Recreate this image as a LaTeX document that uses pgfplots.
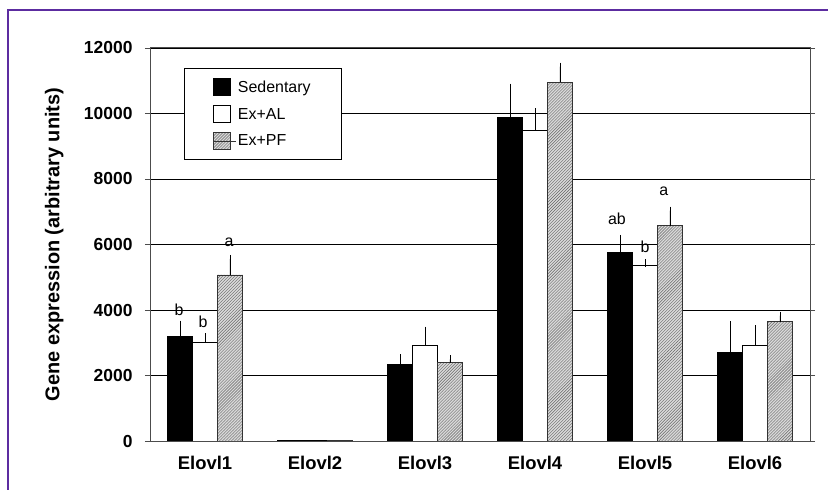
\documentclass[border=0pt]{standalone}
\usepackage{fontspec}
\setmainfont{Liberation Sans}
\usepackage{pgfplots}
\usepackage{pgfplotstable}
\pgfplotsset{compat=1.18}
\usetikzlibrary{patterns}

\definecolor{framepurple}{RGB}{92,44,160}

% x = gene index, value and upper error for each group
\pgfplotstableread{
x sed  sedE al   alE pf    pfE
0 3200 350  3000 170 5070  490
1 20   nan  20   nan 20    nan
2 2350 175  2930 440 2390  105
3 9880 910  9480 560 10960 470
4 5770 400  5350 70  6575  460
5 2710 830  2910 500 3645  180
}\expr

\pgfplotsset{
  sq legend/.style={legend image code/.code={
    \draw[##1] (0bp,-8bp) rectangle (17bp,9bp);
    \path[draw=none, fill=none] (0bp,0bp) -- (22bp,0bp);}},
}

\begin{document}
\begin{tikzpicture}
\path[use as bounding box] (0,0) rectangle (828bp,490bp);
\draw[framepurple, line width=1.5bp] (8bp,0) -- (8bp,480bp) -- (828bp,480bp);
\begin{axis}[
    at={(150bp,49bp)}, anchor=south west,
    scale only axis,
    width=660bp, height=393bp,
    ybar=0pt,
    bar width=0.227,
    xmin=-0.5, xmax=5.5,
    ymin=0, ymax=12000,
    xtick={0,1,2,3,4,5},
    xticklabels={Elovl1,Elovl2,Elovl3,Elovl4,Elovl5,Elovl6},
    xtick style={draw=none},
    ytick={0,2000,4000,6000,8000,10000,12000},
    scaled y ticks=false,
    tick align=outside,
    major tick length=5bp,
    ytick style={black!70, line width=0.8bp},
    ymajorgrids,
    grid style={black, line width=0.7bp},
    axis line style={black!70, line width=1bp},
    /pgf/number format/assume math mode=true,
    /pgf/number format/set thousands separator={},
    yticklabel style={font=\fontsize{17.5}{17.5}\selectfont\bfseries, xshift=-9bp},
    xticklabel style={font=\fontsize{18.5}{18.5}\selectfont\bfseries, yshift=-7bp},
    ylabel={Gene expression (arbitrary units)},
    ylabel style={font=\fontsize{20}{20}\selectfont\bfseries,
      at={(axis description cs:-0.145,0.5)}, anchor=center},
    legend style={at={(0.0515,0.949)}, anchor=north west, draw=black,
      fill=white, line width=0.7bp,
      font=\fontsize{16}{16}\selectfont,
      inner xsep=29bp, inner ysep=10bp, row sep=9bp,
      cells={anchor=west}},
    error bars/error bar style={black, line width=0.6bp},
    error bars/error mark options={black, mark size=4bp, line width=0.6bp},
]
\addplot[fill=black, draw=black, sq legend,
  error bars/.cd, y dir=plus, y explicit]
  table[x=x, y=sed, y error=sedE]{\expr};
\addplot[fill=white, draw=black, line width=0.6bp, sq legend,
  error bars/.cd, y dir=plus, y explicit]
  table[x=x, y=al, y error=alE]{\expr};
\addplot[fill=gray!30, draw=black!80, line width=0.6bp, sq legend,
  postaction={pattern=north east lines, pattern color=gray!80!black},
  error bars/.cd, y dir=plus, y explicit]
  table[x=x, y=pf, y error=pfE]{\expr};
\legend{Sedentary, Ex+AL, Ex+PF}

\node[font=\fontsize{16}{16}\selectfont] at (axis cs:-0.236,4000) {b};
\node[font=\fontsize{16}{16}\selectfont] at (axis cs:-0.018,3640) {b};
\node[font=\fontsize{16}{16}\selectfont] at (axis cs:0.218,6080) {a};
\node[font=\fontsize{16}{16}\selectfont] at (axis cs:3.745,6780) {ab};
\node[font=\fontsize{16}{16}\selectfont] at (axis cs:4.0,5930) {b};
\node[font=\fontsize{16}{16}\selectfont] at (axis cs:4.17,7610) {a};
\end{axis}
\end{tikzpicture}
\end{document}
